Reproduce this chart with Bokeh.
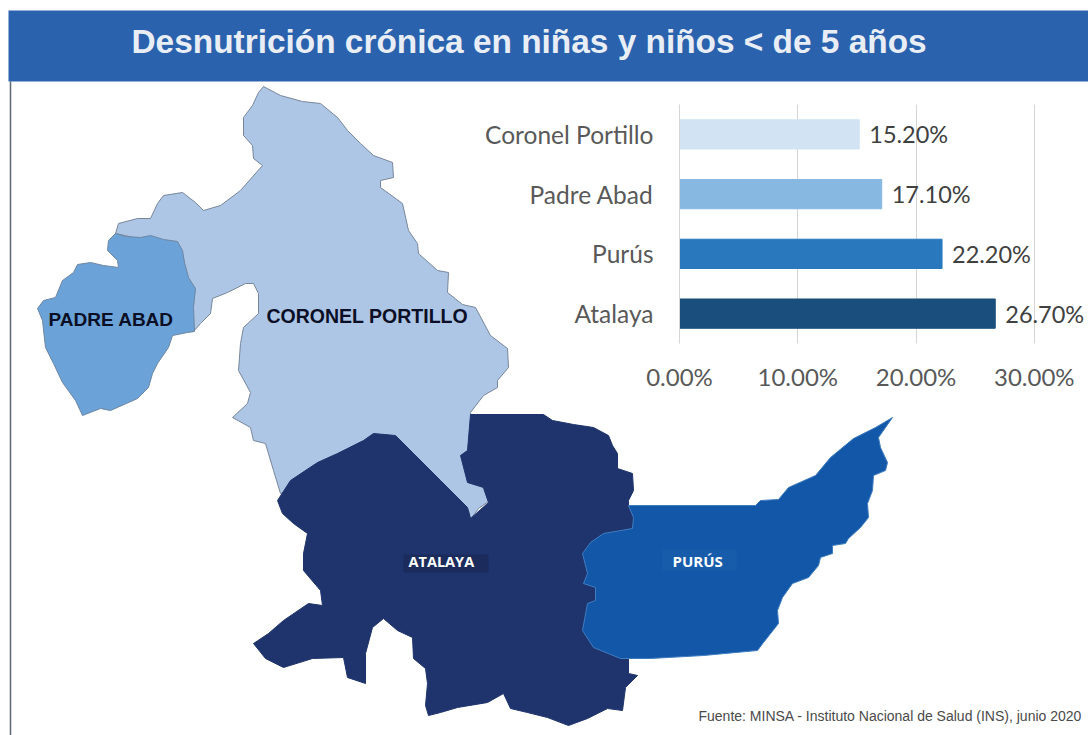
from bokeh.plotting import figure
from bokeh.layouts import column
from bokeh.models import ColumnDataSource, FixedTicker, LabelSet, NumeralTickFormatter
from bokeh.core.properties import value
from bokeh.embed import file_html
from bokeh.resources import INLINE

# Bar chart data
DISTRICTS = ["Coronel Portillo", "Padre Abad", "Purús", "Atalaya"]
RATES = [0.152, 0.171, 0.222, 0.267]
RATE_LABELS = ["15.20%", "17.10%", "22.20%", "26.70%"]
BAR_COLORS = ["#d2e4f3", "#86b8e2", "#2978bd", "#1a4e7c"]
RATE_TICKS = [0.0, 0.1, 0.2, 0.3]

TITLE = "Desnutrición crónica en niñas y niños < de 5 años"
SOURCE = "Fuente: MINSA - Instituto Nacional de Salud (INS), junio 2020"

# Map outlines (map units)
PADRE_ABAD = [(115,233),(125,236),(140,237),(150,235),(163,239),(177,241),(182,250),(184,262),(188,277),(195,288),
              (193,307),(194,331),(187,332),(172,335),(168,347),(157,363),(152,373),(148,387),(137,398),(110,410),
              (100,408),(82,415),(75,400),(62,382),(53,363),(45,347),(42,320),(37,308),(43,300),(55,297),(62,280),
              (73,272),(77,264),(90,262),(103,265),(118,267),(117,260),(110,253),(107,250),(108,240)]
CORONEL_PORTILLO = [(263,86),(280,95),(302,101),(320,103),(337,117),(347,130),(360,143),(373,155),(392,162),(393,177),
                    (380,180),(380,187),(402,203),(408,230),(417,243),(418,253),(437,270),(448,272),(447,292),(462,304),
                    (475,307),(490,335),(507,348),(508,367),(497,380),(497,387),(483,395),(470,412),(475,433),(475,480),
                    (482,486),(488,501),(478,508),(470,519),(468,510),(400,490),(290,490),
                    (280,493),(273,470),(265,443),(253,440),(250,427),(232,417),(247,403),(250,392),(238,370),(240,343),
                    (243,327),(258,313),(258,293),(253,283),(245,283),(227,292),(212,298),(210,313),(200,323),(193,331),
                    (185,300),(170,245),(115,233),(118,223),(137,218),(150,218),(157,203),(163,195),(182,192),(195,202),
                    (203,210),(220,205),(240,190),(262,165),(253,158),(252,145),(243,135),(243,117),(252,105),(258,92)]
ATALAYA = [(470,414),(543,414),(552,420),(573,424),(593,427),(608,435),(612,445),(617,453),(617,468),(632,473),
           (633,490),(628,500),(628,505),(633,517),(632,528),(613,560),(613,640),(628,658),(628,673),(637,675),
           (625,687),(622,710),(607,708),(587,718),(568,725),(547,717),(527,712),(510,708),(503,693),(487,702),
           (457,707),(440,712),(428,715),(425,705),(427,683),(425,668),(413,658),(412,637),(397,630),(383,618),
           (372,627),(365,653),(365,683),(347,677),(343,657),(312,658),(283,667),(265,658),(253,643),(268,633),
           (283,620),(308,603),(322,605),(320,590),(303,570),(303,553),(307,533),(293,523),(282,513),(277,500),
           (290,480),(317,462),(337,453),(363,440),(373,433),(395,435),(413,453),(440,480),(467,507),(470,518),
           (488,502),(483,487),(467,482),(460,455),(467,450)]
PURUS = [(628,505),(755,505),(760,500),(778,499),(788,487),(815,475),(830,457),(853,438),(875,427),(892,417),
         (878,437),(880,447),(887,462),(885,470),(873,475),(872,490),(867,503),(868,517),(860,527),(848,538),(845,543),
         (832,545),(832,553),(820,557),(818,565),(808,577),(792,583),(782,597),(777,610),(778,623),(763,642),(757,650),
         (703,655),(650,658),(620,658),(593,647),(582,630),(587,603),(595,600),(595,587),(583,583),(587,573),(582,553),
         (590,542),(603,533),(632,528),(633,517)]


def xs(outline):
    return [pt[0] for pt in outline]


def ys(outline):
    return [pt[1] for pt in outline]


m = figure(width=1088, height=735, x_range=(0, 1088), y_range=(735, 0), output_backend="svg",
           toolbar_location=None, min_border=0, outline_line_color=None)
m.axis.visible = False
m.grid.visible = False

# Header band and left rule
m.quad(left=[8], right=[1088], top=[10], bottom=[81], fill_color="#2a62ae", line_color=None)
m.segment(x0=[10], y0=[81], x1=[10], y1=[735], line_color="#5c6670", line_width=1.5)
m.text(x=[131], y=[41], text=[TITLE], text_color="#e9eef6", text_font=value("Liberation Sans"),
       text_font_style="bold", text_font_size="33.4px", text_baseline="middle", text_align="left")

# Regions
m.patch(xs(CORONEL_PORTILLO), ys(CORONEL_PORTILLO), fill_color="#aec6e6", line_color="#77869a", line_width=1)
m.patch(xs(PADRE_ABAD), ys(PADRE_ABAD), fill_color="#6ba3d8", line_color="#6d86a3", line_width=1)
m.patch(xs(ATALAYA), ys(ATALAYA), fill_color="#1f346c", line_color="#1f346c", line_width=1)
m.patch(xs(PURUS), ys(PURUS), fill_color="#1358a8", line_color="#3f7cc0", line_width=1)

# Region labels
m.quad(left=[403], right=[488], top=[554], bottom=[572], fill_color="#1b2b5c", line_color=None)
m.quad(left=[662], right=[736], top=[549], bottom=[570], fill_color="#175caa", line_color=None)
m.text(x=[48], y=[319], text=["PADRE ABAD"], text_color="#0a0f25", text_font=value("Liberation Sans"),
       text_font_style="bold", text_font_size="19px", text_baseline="middle")
m.text(x=[266], y=[315], text=["CORONEL PORTILLO"], text_color="#0a0f25", text_font=value("Liberation Sans"),
       text_font_style="bold", text_font_size="19.5px", text_baseline="middle")
m.text(x=[408], y=[561], text=["ATALAYA"], text_color="#ffffff", text_font=value("Open Sans"),
       text_font_style="bold", text_font_size="14.5px", text_baseline="middle")
m.text(x=[672], y=[560], text=["PURÚS"], text_color="#ffffff", text_font=value("Open Sans"),
       text_font_style="bold", text_font_size="15px", text_baseline="middle")
m.text(x=[698], y=[715], text=[SOURCE], text_color="#4a4a4a", text_font=value("Liberation Sans"),
       text_font_size="14px", text_baseline="middle")

# Bar chart, laid over the map
src = ColumnDataSource(dict(district=DISTRICTS, rate=RATES, label=RATE_LABELS, color=BAR_COLORS))
b = figure(width=618, height=300, y_range=DISTRICTS[::-1], x_range=(0, 0.345), output_backend="svg",
           toolbar_location=None, min_border_left=209, min_border_right=1, min_border_top=9, min_border_bottom=52,
           background_fill_alpha=0, border_fill_alpha=0, outline_line_color=None)
b.hbar(y="district", left=0, right="rate", height=0.49, color="color", source=src)
b.add_layout(LabelSet(x="rate", y="district", text="label", source=src, x_offset=10, text_baseline="middle",
                      text_color="#404040", text_font=value("Lato"), text_font_size="23.5px"))
b.ygrid.visible = False
b.xgrid.ticker = FixedTicker(ticks=RATE_TICKS)
b.xgrid.grid_line_color = "#d4d4d4"
b.xaxis.ticker = FixedTicker(ticks=RATE_TICKS)
b.xaxis.formatter = NumeralTickFormatter(format="0.00%")
b.xaxis.axis_line_color = None
b.xaxis.major_tick_line_color = None
b.xaxis.minor_tick_line_color = None
b.xaxis.major_label_standoff = 12
b.xaxis.major_label_text_font = "Lato"
b.xaxis.major_label_text_font_size = "24px"
b.xaxis.major_label_text_color = "#595959"
b.yaxis.axis_line_color = "#d4d4d4"
b.yaxis.major_tick_line_color = None
b.yaxis.minor_tick_line_color = None
b.yaxis.major_label_standoff = 20
b.yaxis.major_label_text_font = "Lato"
b.yaxis.major_label_text_font_size = "24.5px"
b.yaxis.major_label_text_color = "#595959"

map_box = column(m, width=1088, height=735)
bar_box = column(b, width=618, height=300, margin=(-640, 0, 0, 470))
page = column(map_box, bar_box, spacing=0)
open("out.html", "w").write(file_html(page, INLINE))
